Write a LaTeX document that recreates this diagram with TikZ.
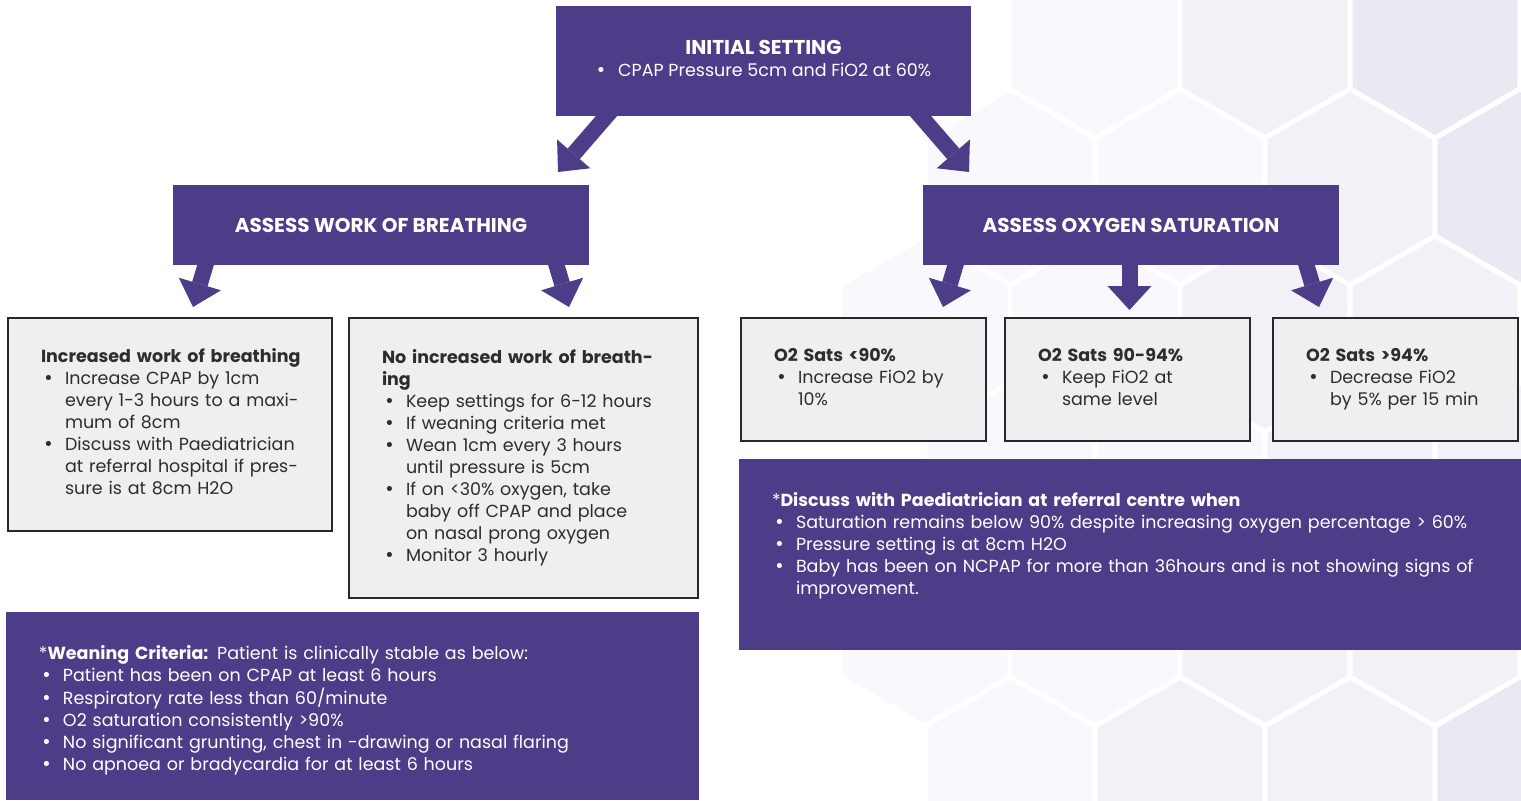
\documentclass[tikz,border=0pt]{standalone}
\usepackage{fontspec}
\setmainfont{Poppins}
\newfontfamily\bulfont{DejaVu Sans}
\usetikzlibrary{arrows.meta,calc}
\definecolor{pur}{RGB}{77,60,136}
\definecolor{boxgrey}{RGB}{238,239,241}
\definecolor{edge}{RGB}{40,40,40}
\definecolor{txt}{RGB}{45,45,45}
\definecolor{hexa}{RGB}{249,248,252}
\definecolor{hexb}{RGB}{242,241,248}
\definecolor{hexc}{RGB}{234,232,243}
\newcommand\bul{\makebox[12pt][l]{\hspace{1.2pt}{\bulfont •}}}
\newcommand\ind{\hspace*{12pt}}
\newcommand\lines[1]{\begin{tabular}{@{}l@{}}#1\end{tabular}}
\pgfdeclarelayer{bg}
\pgfdeclarelayer{arr}
\pgfsetlayers{bg,arr,main}
\begin{document}
\begin{tikzpicture}[x=0.5pt,y=-0.5pt,
  every node/.style={font=\fontsize{8.75}{11}\selectfont},
  purbox/.style={fill=pur, text=white, inner sep=0pt},
  headtxt/.style={font=\fontsize{10}{12}\selectfont\bfseries},
  greybox/.style={fill=boxgrey, draw=edge, line width=1.2pt, text=txt,
    align=left, inner xsep=16.5pt, inner ysep=0pt},
  infobox/.style={fill=pur, text=white, align=left, inner xsep=16.5pt, inner ysep=0pt},
  bigarrow/.style={draw=pur, line width=8pt,
    -{Triangle[length=12pt,width=22pt,line width=0pt]}},
  hex/.style={draw=white, line width=2.5pt}
]
\useasboundingbox (0,0) rectangle (1521,800);
\begin{pgfonlayer}{bg}
\fill[white] (0,0) rectangle (1521,800);
\foreach \cx/\cy/\c in {
  1265/40/hexb, 1435/40/hexc, 1095/40/hexa,
  1010/187/hexa, 1180/187/hexa, 1350/187/hexb, 1520/187/hexc,
  925/334/hexa, 1095/334/hexa, 1265/334/hexb, 1435/334/hexb,
  1010/481/hexa, 1180/481/hexa, 1350/481/hexb, 1520/481/hexb,
  925/628/hexa, 1095/628/hexa, 1265/628/hexb, 1435/628/hexb,
  1010/775/hexa, 1180/775/hexb, 1350/775/hexb, 1520/775/hexc}
  \filldraw[hex, fill=\c] (\cx,\cy) +(30:98) -- +(90:98) -- +(150:98)
     -- +(210:98) -- +(270:98) -- +(330:98) -- cycle;
\end{pgfonlayer}

% top box
\node[purbox, minimum width=207.5pt, minimum height=55pt, align=center] (init) at (763.5,61)
  {\lines{\hfil{\fontsize{10}{12}\selectfont\bfseries INITIAL SETTING}\hfil\\
   {\bulfont •}\hspace{6pt}CPAP Pressure 5cm and FiO2 at 60\%}};

% assess boxes
\node[purbox, headtxt, minimum width=208pt, minimum height=40pt] (wob) at (381,225)
  {ASSESS WORK OF BREATHING};
\node[purbox, headtxt, minimum width=208pt, minimum height=40pt] (oxy) at (1131,225)
  {ASSESS OXYGEN SATURATION};

% grey boxes
\node[greybox, text width=129pt, minimum height=106.5pt] (inc) at (170,424.5)
  {\lines{\textbf{Increased work of breathing}\\
   \bul Increase CPAP by 1cm\\
   \ind every 1-3 hours to a maxi-\\
   \ind mum of 8cm\\
   \bul Discuss with Paediatrician\\
   \ind at referral hospital if pres-\\
   \ind sure is at 8cm H2O}};
\node[greybox, text width=141.5pt, minimum height=140pt] (noinc) at (523.5,458)
  {\lines{\textbf{No increased work of breath-}\\
   \textbf{ing}\\
   \bul Keep settings for 6-12 hours\\
   \bul If weaning criteria met\\
   \bul Wean 1cm every 3 hours\\
   \ind until pressure is 5cm\\
   \bul If on <30\% oxygen, take\\
   \ind baby off CPAP and place\\
   \ind on nasal prong oxygen\\
   \bul Monitor 3 hourly}};
\node[greybox, text width=89.5pt, minimum height=61.5pt] (low) at (863.5,379.5)
  {\lines{\textbf{O2 Sats <90\%}\\
   \bul Increase FiO2 by\\
   \ind 10\%}};
\node[greybox, text width=89.5pt, minimum height=61.5pt] (mid) at (1127.5,379.5)
  {\lines{\textbf{O2 Sats 90-94\%}\\
   \bul Keep FiO2 at\\
   \ind same level}};
\node[greybox, text width=89.5pt, minimum height=61.5pt] (high) at (1395.5,379.5)
  {\lines{\textbf{O2 Sats >94\%}\\
   \bul Decrease FiO2\\
   \ind by 5\% per 15 min}};

% info boxes
\node[infobox, text width=358.5pt, minimum height=95.5pt] (disc) at (1130.5,554.5)
  {\lines{*\textbf{Discuss with Paediatrician at referral centre when}\\
   \bul Saturation remains below 90\% despite increasing oxygen percentage > 60\%\\
   \bul Pressure setting is at 8cm H2O\\
   \bul Baby has been on NCPAP for more than 36hours and is not showing signs of\\
   \ind improvement.\rule[-11.3pt]{0pt}{11.3pt}}};
\node[infobox, text width=313.5pt, minimum height=94pt] (wean) at (352.5,706)
  {\lines{\rule{0pt}{12.7pt}*\textbf{Weaning Criteria:} Patient is clinically stable as below:\\
   \bul Patient has been on CPAP at least 6 hours\\
   \bul Respiratory rate less than 60/minute\\
   \bul O2 saturation consistently >90\%\\
   \bul No significant grunting, chest in -drawing or nasal flaring\\
   \bul No apnoea or bradycardia for at least 6 hours}};

% arrow tips
\coordinate (t1) at (558,172);
\coordinate (t2) at (969,172);
\coordinate (t3) at (193,307);
\coordinate (t4) at (569,307);
\coordinate (t5) at (943,307);
\coordinate (t6) at (1129.5,310);
\coordinate (t7) at (1319,307);

\begin{pgfonlayer}{arr}
\draw[bigarrow] ($(init.south)+(-143.5,-16)$) -- (t1);
\draw[bigarrow] ($(init.south)+(143.5,-16)$) -- (t2);
\draw[bigarrow] ($(wob.south)+(-170.5,-17)$) -- (t3);
\draw[bigarrow] ($(wob.south)+(170.5,-17)$) -- (t4);
\draw[bigarrow] ($(oxy.south)+(-170.5,-17)$) -- (t5);
\draw[bigarrow] ($(oxy.south)+(-1.5,-17)$) -- (t6);
\draw[bigarrow] ($(oxy.south)+(170.5,-17)$) -- (t7);
\end{pgfonlayer}
\end{tikzpicture}
\end{document}
